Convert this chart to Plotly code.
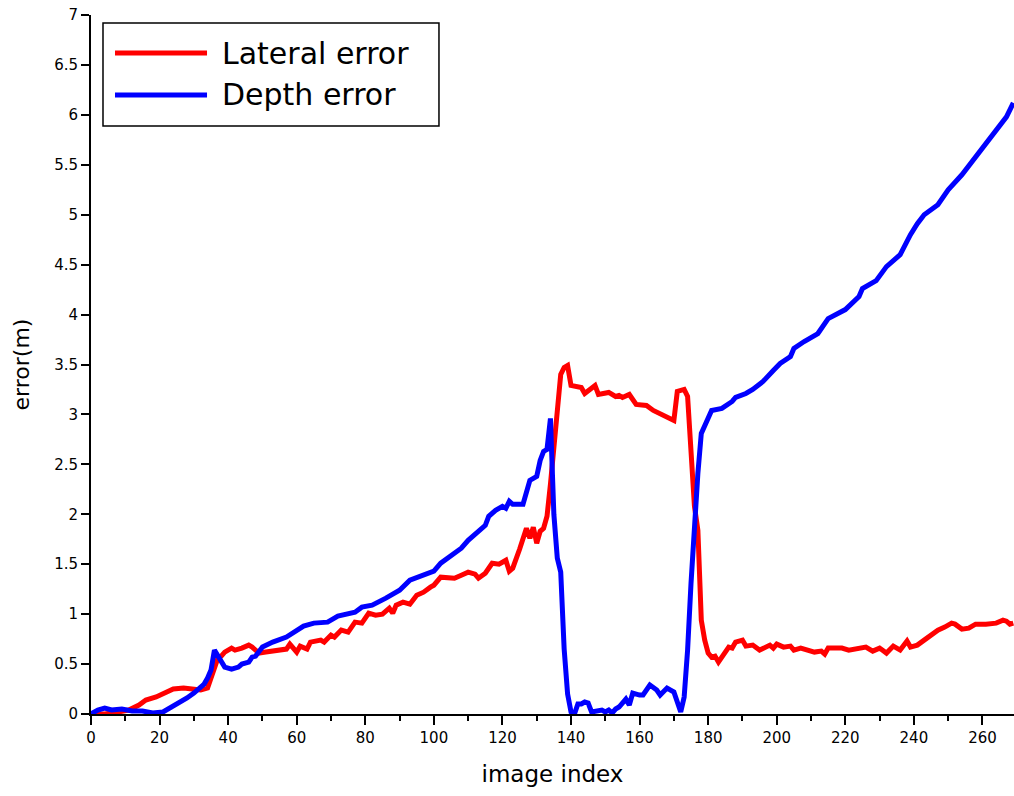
import plotly.graph_objects as go

# ---- data ----
lateral_idx = [0, 4, 8, 11, 14, 16, 19, 22, 24, 27, 30, 32, 34, 35, 36, 37, 38, 39, 41, 42, 44, 46, 47, 49,
               51, 53, 55, 57, 58, 60, 61, 63, 64, 67, 68, 70, 71, 73, 75, 77, 79, 81, 83, 85, 87, 88, 89,
               91, 92, 93, 95, 97, 99, 100, 102, 104, 106, 108, 110, 112, 113, 115, 117, 119, 121, 122, 123,
               125, 127, 128, 129, 130, 131, 132, 133, 134, 135, 136, 137, 138, 139, 140, 143, 144, 147, 148,
               151, 153, 154, 155, 157, 159, 162, 164, 167, 170, 171, 173, 174, 175, 176, 177, 178, 179, 180,
               181, 182, 183, 185, 186, 187, 188, 190, 191, 193, 195, 198, 199, 200, 202, 204, 205, 207, 211,
               213, 214, 215, 219, 221, 226, 228, 230, 232, 234, 236, 238, 239, 241, 243, 245, 247, 249, 251,
               252, 254, 256, 258, 261, 264, 266, 267, 268, 269]
lateral_err = [0.0, 0.0, 0.02, 0.04, 0.09, 0.14, 0.17, 0.21, 0.25, 0.26, 0.25, 0.24, 0.26, 0.37, 0.47, 0.56, 0.58,
               0.62, 0.66, 0.64, 0.66, 0.69, 0.67, 0.61, 0.62, 0.63, 0.64, 0.65, 0.70, 0.62, 0.68, 0.65, 0.72,
               0.74, 0.72, 0.79, 0.77, 0.84, 0.82, 0.92, 0.91, 1.01, 0.99, 1.00, 1.06, 1.01, 1.09, 1.12, 1.11,
               1.10, 1.19, 1.22, 1.27, 1.29, 1.37, 1.37, 1.36, 1.39, 1.42, 1.40, 1.36, 1.41, 1.51, 1.50, 1.54,
               1.43, 1.46, 1.65, 1.86, 1.76, 1.87, 1.71, 1.83, 1.86, 1.98, 2.30, 2.64, 3.10, 3.40, 3.47, 3.49,
               3.29, 3.27, 3.21, 3.29, 3.20, 3.22, 3.18, 3.19, 3.17, 3.20, 3.10, 3.09, 3.04, 2.99, 2.94, 3.23,
               3.25, 3.18, 2.51, 2.08, 1.84, 0.94, 0.74, 0.61, 0.57, 0.58, 0.52, 0.62, 0.67, 0.66, 0.72, 0.74,
               0.68, 0.69, 0.64, 0.69, 0.66, 0.70, 0.67, 0.68, 0.64, 0.66, 0.62, 0.63, 0.60, 0.66, 0.66, 0.64,
               0.67, 0.63, 0.66, 0.61, 0.68, 0.64, 0.73, 0.67, 0.69, 0.74, 0.79, 0.84, 0.87, 0.91, 0.90, 0.85,
               0.86, 0.90, 0.90, 0.91, 0.94, 0.93, 0.90, 0.91]

depth_idx = [0, 2, 4, 6, 9, 12, 15, 18, 21, 23, 25, 28, 30, 32, 33, 34, 35, 36, 37, 39, 41, 43, 44, 46, 47, 48,
             50, 53, 57, 59, 62, 65, 69, 72, 75, 77, 79, 82, 86, 90, 93, 96, 100, 102, 105, 108, 110, 113, 115,
             116, 118, 120, 121, 122, 123, 126, 128, 130, 131, 132, 133, 134, 135, 136, 137, 138, 139, 140, 141,
             142, 143, 144, 145, 146, 148, 149, 150, 151, 152, 153, 154, 155, 156, 157, 158, 160, 161, 163, 165,
             166, 168, 170, 171, 172, 173, 174, 175, 176, 177, 178, 180, 181, 184, 187, 188, 191, 193, 196, 199,
             201, 204, 205, 208, 212, 215, 220, 224, 225, 229, 232, 236, 238, 239, 241, 243, 247, 250, 254, 258,
             261, 264, 267, 269]
depth_err = [0.0, 0.04, 0.06, 0.04, 0.05, 0.03, 0.03, 0.01, 0.02, 0.06, 0.09, 0.16, 0.21, 0.26, 0.30, 0.36,
             0.44, 0.64, 0.59, 0.47, 0.45, 0.47, 0.50, 0.52, 0.57, 0.58, 0.67, 0.72, 0.77, 0.82, 0.88, 0.91,
             0.92, 0.98, 1.00, 1.02, 1.07, 1.09, 1.16, 1.24, 1.34, 1.38, 1.43, 1.51, 1.58, 1.66, 1.74, 1.83,
             1.89, 1.98, 2.04, 2.08, 2.06, 2.13, 2.10, 2.10, 2.34, 2.38, 2.54, 2.63, 2.65, 2.96, 2.00, 1.56,
             1.42, 0.65, 0.20, 0.02, 0.00, 0.10, 0.10, 0.12, 0.11, 0.02, 0.03, 0.04, 0.02, 0.04, 0.01, 0.05,
             0.07, 0.12, 0.15, 0.09, 0.21, 0.19, 0.19, 0.29, 0.24, 0.19, 0.26, 0.22, 0.10, 0.02, 0.17, 0.64,
             1.31, 1.98, 2.41, 2.81, 2.98, 3.04, 3.06, 3.13, 3.17, 3.21, 3.25, 3.33, 3.44, 3.51, 3.58, 3.66,
             3.73, 3.81, 3.96, 4.05, 4.18, 4.26, 4.34, 4.48, 4.60, 4.75, 4.80, 4.91, 5.00, 5.10, 5.25, 5.40,
             5.58, 5.71, 5.83, 5.98, 6.12, 6.20]

series_names = ["Lateral error", "Depth error"]
series_colors = ["#ff0000", "#0000ff"]

FONT = "DejaVu Sans"

fig = go.Figure()
fig.add_trace(go.Scatter(x=lateral_idx, y=lateral_err, mode="lines", name=series_names[0],
                         line=dict(color=series_colors[0], width=5), showlegend=False))
fig.add_trace(go.Scatter(x=depth_idx, y=depth_err, mode="lines", name=series_names[1],
                         line=dict(color=series_colors[1], width=5), showlegend=False))

# custom legend (box, sample lines, labels) in paper coordinates
fig.add_shape(type="rect", xref="paper", yref="paper", x0=0.013, x1=0.377, y0=0.8412, y1=0.9886,
              line=dict(color="black", width=1.5), fillcolor="white", layer="above")
legend_y = [0.9456, 0.8856]
for name, color, yy in zip(series_names, series_colors, legend_y):
    fig.add_shape(type="line", xref="paper", yref="paper", x0=0.026, x1=0.1257, y0=yy, y1=yy,
                  line=dict(color=color, width=5), layer="above")
    fig.add_annotation(xref="paper", yref="paper", x=0.1398, y=yy, text=name, showarrow=False,
                       xanchor="left", yanchor="middle", font=dict(family=FONT, size=30, color="black"))

fig.update_layout(
    width=1014, height=796,
    margin=dict(l=91, r=0, t=15, b=82),
    paper_bgcolor="white", plot_bgcolor="white",
    font=dict(family=FONT, color="black"),
    showlegend=False,
)
fig.update_xaxes(
    range=[0, 269.2], dtick=20, tick0=0,
    showgrid=False, zeroline=False,
    showline=True, linecolor="black", linewidth=2,
    ticks="outside", ticklen=9, tickwidth=1.5, tickcolor="black",
    minor=dict(ticks="outside", ticklen=5, dtick=10, tickcolor="black", tickwidth=1.5, showgrid=False),
    tickfont=dict(family=FONT, size=15, color="black"),
    title=dict(text="image index", font=dict(family=FONT, size=23, color="black"), standoff=20),
)
fig.update_yaxes(
    range=[0, 7], dtick=0.5, tick0=0,
    showgrid=False, zeroline=False,
    showline=True, linecolor="black", linewidth=2,
    ticks="outside", ticklen=8, tickwidth=1.5, tickcolor="black",
    tickfont=dict(family=FONT, size=15, color="black"),
    title=dict(text="error(m)", font=dict(family=FONT, size=22, color="black"), standoff=18),
)

fig.write_html("out.html")
